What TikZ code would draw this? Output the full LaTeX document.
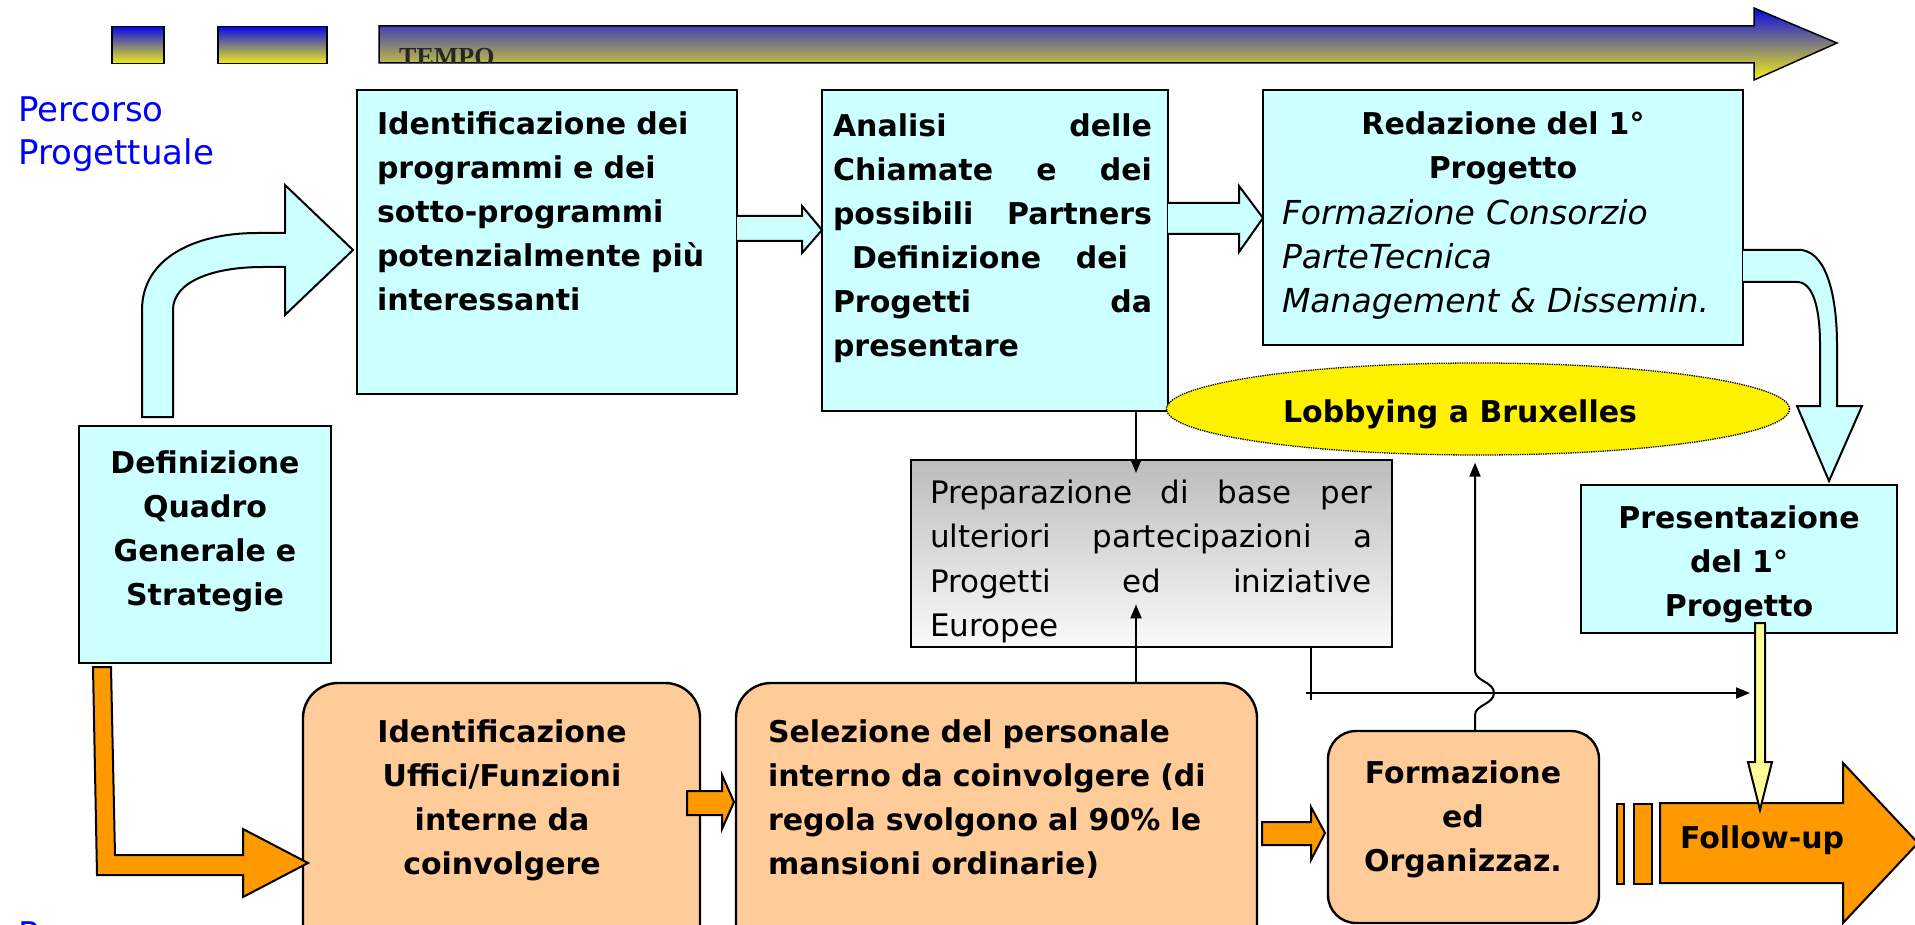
\documentclass[tikz,border=0pt]{standalone}
\usepackage{fontspec}
\setmainfont{DejaVu Sans}[BoldFont={DejaVu Sans Bold},ItalicFont={DejaVu Sans Oblique},BoldItalicFont={DejaVu Sans Bold Oblique}]
\newfontfamily\tempofont{Liberation Serif}
\usetikzlibrary{shapes.geometric,arrows.meta}
\definecolor{cyanbox}{RGB}{204,255,255}
\definecolor{orlight}{RGB}{255,204,153}
\definecolor{ordark}{RGB}{255,153,0}
\definecolor{lyellow}{RGB}{255,255,153}
\definecolor{gtop}{RGB}{188,188,188}
\definecolor{gbot}{RGB}{250,250,250}
\definecolor{tblue}{RGB}{10,10,230}
\definecolor{tyellow}{RGB}{245,240,20}
\definecolor{pblue}{RGB}{0,0,255}
\newcommand{\jline}[2]{\leavevmode\hbox to #1{#2}}
\begin{document}
\begin{tikzpicture}[x=1pt,y=-1pt,
 cybox/.style={draw=black,line width=2.4pt,fill=cyanbox,inner sep=0pt,outer sep=0pt,anchor=north west},
 orbox/.style={draw=black,line width=2.4pt,fill=orlight,inner sep=0pt,outer sep=0pt,anchor=north west},
 btxt/.style={font=\fontsize{30}{44}\selectfont\bfseries,inner sep=0pt,outer sep=0pt},
 rtxt/.style={font=\fontsize{31}{44.5}\selectfont,inner sep=0pt,outer sep=0pt},
 itxt/.style={font=\fontsize{33}{44}\selectfont\itshape,inner sep=0pt,outer sep=0pt},
 blk/.style={draw=black,line width=2pt,line join=miter},
 conn/.style={line width=2pt,-{Triangle[length=14pt,width=11pt]}},
 wire/.style={line width=2pt},
 barsq/.style={draw=black,line width=1.5pt,top color=tblue,bottom color=tyellow,inner sep=0pt,anchor=north west},
]
\useasboundingbox (0,0) rectangle (1915,925);

% ---------- time bar ----------
\node[barsq,minimum width=52pt,minimum height=37pt] (sq1) at (111,26) {};
\node[barsq,minimum width=109pt,minimum height=37pt] (sq2) at (217,26) {};
\path[draw=black,line width=1.5pt,top color=tblue,bottom color=tyellow]
  (379,26) -- (1754,26) -- (1754,8) -- (1837,43) -- (1754,80) -- (1754,63) -- (379,63) -- cycle;
\begin{scope}
\clip (379,26) rectangle (1754,63);
\node[anchor=base west,inner sep=0pt,font=\tempofont\bfseries\fontsize{26}{26}\selectfont,text=black!85] (tempo) at (399,66) {TEMPO};
\end{scope}

% ---------- side labels ----------
\node[anchor=base west,inner sep=0pt,font=\fontsize{34}{43}\selectfont,text=pblue,text width=300pt,align=left] (pp) at (18,122) {Percorso\\Progettuale};
\node[anchor=base west,inner sep=0pt,font=\fontsize{34}{43}\selectfont,text=pblue] (pp2) at (18,946) {Percorso};

% ---------- top row boxes ----------
\node[cybox,minimum width=252pt,minimum height=237pt] (b0) at (79,426) {};
\node[cybox,minimum width=380pt,minimum height=304pt] (b1) at (357,90) {};
\node[cybox,minimum width=346pt,minimum height=321pt] (b2) at (822,90) {};
\node[cybox,minimum width=480pt,minimum height=255pt] (b3) at (1263,90) {};
\node[cybox,minimum width=316pt,minimum height=148pt] (b4) at (1581,485) {};
\node[draw=black,line width=2.4pt,top color=gtop,bottom color=gbot,inner sep=0pt,anchor=north west,minimum width=481pt,minimum height=187pt] (gray) at (910,459) {};
\node[ellipse,draw=black,densely dotted,line width=1.3pt,fill=yellow,minimum width=623pt,minimum height=92pt,inner sep=0pt] (lob) at (1478,409) {};

% ---------- bottom row boxes ----------
\node[orbox,rounded corners=35pt,minimum width=397pt,minimum height=290pt] (o1) at (303,683) {};
\node[orbox,rounded corners=35pt,minimum width=521pt,minimum height=290pt] (o2) at (736,683) {};
\node[orbox,rounded corners=28pt,minimum width=271pt,minimum height=192pt] (o3) at (1328,731) {};

% ---------- block arrows ----------
\path[blk,fill=cyanbox] (142,417) -- (142,310) .. controls (142,258) and (195,233) .. (257,233) -- (285,233) -- (285,185) -- (353,250) -- (285,315) -- (285,267) -- (263,267) .. controls (212,267) and (173,282) .. (173,310) -- (173,417) -- cycle;
\path[blk,fill=cyanbox] (737,216) -- (802,216) -- (802,206) -- (822,230) -- (802,253) -- (802,241) -- (737,241);
\path[blk,fill=cyanbox] (1168,203) -- (1239,203) -- (1239,186) -- (1263,218) -- (1239,252) -- (1239,234) -- (1168,234);
\path[blk,fill=cyanbox] (1743,250) -- (1802,250) .. controls (1828,254) and (1837,300) .. (1837,345) -- (1837,406) -- (1862,406) -- (1829,481) -- (1797,406) -- (1820,406) -- (1820,345) .. controls (1820,305) and (1812,282) .. (1797,282) -- (1743,282);
\path[blk,fill=ordark] (93,667) -- (111,667) -- (115,855) -- (243,855) -- (243,829) -- (308,863) -- (243,897) -- (243,875) -- (97,875) -- cycle;
\path[blk,fill=ordark] (687,791) -- (722,791) -- (722,775) -- (734,802) -- (722,829) -- (722,815) -- (687,815) -- cycle;
\path[blk,fill=ordark] (1262,822) -- (1311,822) -- (1311,807) -- (1325,833) -- (1311,860) -- (1311,845) -- (1262,845) -- cycle;
\node[draw=black,line width=2pt,fill=ordark,inner sep=0pt,anchor=north west,minimum width=7pt,minimum height=80pt] (bar1) at (1616,803) {};
\node[draw=black,line width=2pt,fill=ordark,inner sep=0pt,anchor=north west,minimum width=18pt,minimum height=80pt] (bar2) at (1633,803) {};
\path[blk,fill=ordark] (1660,803) -- (1843,803) -- (1843,763) -- (1918,843) -- (1843,923) -- (1843,883) -- (1660,883) -- cycle;
\path[blk,fill=lyellow] (1755,623) -- (1765,623) -- (1765,762) -- (1772,762) -- (1760,810) -- (1748,762) -- (1755,762) -- cycle;

% ---------- thin connectors ----------
\coordinate (cx1) at (1136,0);
\coordinate (cx2) at (1311,0);
\coordinate (cx3) at (1475,0);
\coordinate (hl) at (1306,693);
\coordinate (hr) at (1750,693);
\draw[conn] (cx1 |- b2.south) -- ([yshift=-14pt]cx1 |- gray.north);
\draw[conn] (cx1 |- o2.north) -- ([yshift=44pt]cx1 |- gray.south);
\draw[wire] (cx2 |- gray.south) -- (1311,700);
\draw[conn] (hl) -- (hr);
\draw[conn] (cx3 |- o3.north) -- (1475,715) .. controls (1475,705) and (1494,704) .. (1494,693) .. controls (1494,682) and (1475,681) .. (1475,671) -- ([yshift=-7pt]cx3 |- lob.south);

% ---------- texts ----------
\node[btxt,anchor=base,text width=240pt,align=center] (b0t) at (205,473) {Definizione\\Quadro\\Generale e\\Strategie};
\node[btxt,anchor=base west,text width=360pt,align=left] (b1t) at (377,135) {Identificazione dei\\programmi e dei\\sotto-programmi\\potenzialmente più\\interessanti};
\node[btxt,anchor=base west,text width=330pt,align=left] (b2t) at (833,137) {\jline{319pt}{Analisi\hfill delle}\\\jline{319pt}{Chiamate\hfill e\hfill dei}\\\jline{319pt}{possibili\hfill Partners}\\\hspace*{19pt}\jline{276pt}{Definizione\hfill dei}\\\jline{319pt}{Progetti\hfill da}\\presentare};
\node[btxt,anchor=base,text width=460pt,align=center] (b3a) at (1503,135) {Redazione del 1°\\Progetto};
\node[itxt,anchor=base west,text width=450pt,align=left] (b3b) at (1282,225) {Formazione Consorzio\\ParteTecnica\\Management \& Dissemin.};
\node[btxt,anchor=base,text width=300pt,align=center] (b4t) at (1739,528) {Presentazione\\del 1°\\Progetto};
\node[rtxt,anchor=base west,text width=450pt,align=left] (grayt) at (930,503) {\jline{442pt}{Preparazione\hfill di\hfill base\hfill per}\\\jline{442pt}{ulteriori\hfill partecipazioni\hfill a}\\\jline{442pt}{Progetti\hfill ed\hfill iniziative}\\Europee};
\node[btxt,anchor=base] (lobt) at (1460,422) {Lobbying a Bruxelles};
\node[btxt,anchor=base,text width=380pt,align=center] (o1t) at (502,742) {Identificazione\\Uffici/Funzioni\\interne da\\coinvolgere};
\node[btxt,anchor=base west,text width=480pt,align=left] (o2t) at (768,742) {Selezione del personale\\interno da coinvolgere (di\\regola svolgono al 90\% le\\mansioni ordinarie)};
\node[btxt,anchor=base,text width=260pt,align=center] (o3t) at (1463,783) {Formazione\\ed\\Organizzaz.};
\node[btxt,anchor=base west] (fut) at (1680,848) {Follow-up};
\end{tikzpicture}
\end{document}
